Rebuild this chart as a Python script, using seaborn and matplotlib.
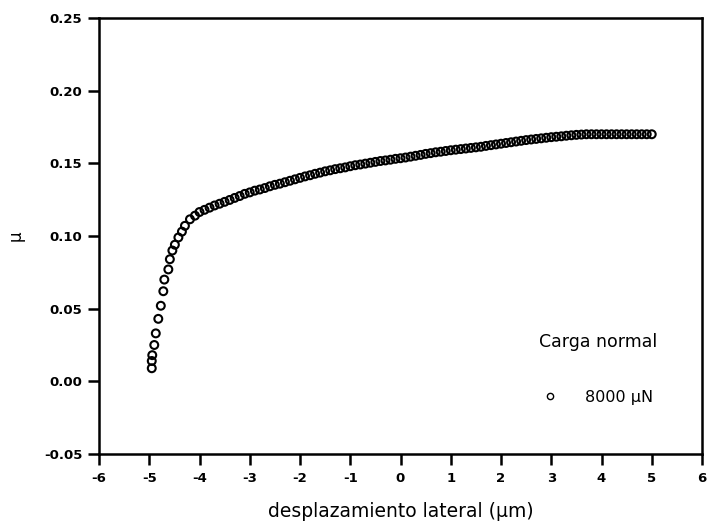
import matplotlib
matplotlib.use("Agg")
import matplotlib.pyplot as plt
import seaborn as sns
import pandas as pd

# Friction coefficient vs lateral displacement, normal load 8000 µN
desplazamiento = [
    -4.95, -4.95, -4.94, -4.90, -4.87, -4.82, -4.77, -4.72, -4.70, -4.62,
    -4.59, -4.54, -4.49, -4.42, -4.35, -4.29, -4.19, -4.09,
    -4.0, -3.9, -3.8, -3.7, -3.6, -3.5, -3.4, -3.3, -3.2, -3.1,
    -3.0, -2.9, -2.8, -2.7, -2.6, -2.5, -2.4, -2.3, -2.2, -2.1,
    -2.0, -1.9, -1.8, -1.7, -1.6, -1.5, -1.4, -1.3, -1.2, -1.1,
    -1.0, -0.9, -0.8, -0.7, -0.6, -0.5, -0.4, -0.3, -0.2, -0.1,
    0.0, 0.1, 0.2, 0.3, 0.4, 0.5, 0.6, 0.7, 0.8, 0.9,
    1.0, 1.1, 1.2, 1.3, 1.4, 1.5, 1.6, 1.7, 1.8, 1.9,
    2.0, 2.1, 2.2, 2.3, 2.4, 2.5, 2.6, 2.7, 2.8, 2.9,
    3.0, 3.1, 3.2, 3.3, 3.4, 3.5, 3.6, 3.7, 3.8, 3.9,
    4.0, 4.1, 4.2, 4.3, 4.4, 4.5, 4.6, 4.7, 4.8, 4.9,
    5.0,
]
mu = [
    0.0090, 0.0140, 0.0180, 0.0250, 0.0330, 0.0430, 0.0520, 0.0620, 0.0700, 0.0770,
    0.0840, 0.0900, 0.0940, 0.0990, 0.1030, 0.1070, 0.1115, 0.1140,
    0.1165, 0.1180, 0.1195, 0.1210, 0.1222, 0.1235, 0.1248, 0.1262, 0.1275, 0.1290,
    0.1300, 0.1312, 0.1320, 0.1330, 0.1342, 0.1352, 0.1360, 0.1370, 0.1380, 0.1390,
    0.1400, 0.1410, 0.1418, 0.1428, 0.1436, 0.1445, 0.1452, 0.1460, 0.1466, 0.1472,
    0.1480, 0.1487, 0.1492, 0.1498, 0.1504, 0.1510, 0.1516, 0.1520, 0.1525, 0.1531,
    0.1535, 0.1540, 0.1546, 0.1552, 0.1558, 0.1565, 0.1570, 0.1576, 0.1580, 0.1585,
    0.1590, 0.1594, 0.1598, 0.1602, 0.1606, 0.1610, 0.1614, 0.1620, 0.1625, 0.1630,
    0.1635, 0.1640, 0.1645, 0.1650, 0.1655, 0.1660, 0.1664, 0.1668, 0.1672, 0.1676,
    0.1680, 0.1683, 0.1686, 0.1690, 0.1693, 0.1696, 0.1698, 0.1700, 0.1700, 0.1700,
    0.1700, 0.1700, 0.1700, 0.1700, 0.1700, 0.1700, 0.1700, 0.1700, 0.1700, 0.1700,
    0.1700,
]
carga = "8000 µN"

x_ticks = [-6, -5, -4, -3, -2, -1, 0, 1, 2, 3, 4, 5, 6]
y_ticks = [-0.05, 0.00, 0.05, 0.10, 0.15, 0.20, 0.25]

df = pd.DataFrame({"x": desplazamiento, "mu": mu, "carga": carga})

sns.set_style("ticks")
plt.rcParams["font.family"] = ["DejaVu Sans"]
plt.rcParams["axes.unicode_minus"] = False
plt.rcParams["text.color"] = "black"
plt.rcParams["axes.labelcolor"] = "black"

fig = plt.figure(figsize=(7.10, 5.22), dpi=100)
ax = fig.add_axes([99 / 710, 68 / 522, 603 / 710, 436 / 522])

sns.scatterplot(
    data=df, x="x", y="mu", hue="carga", palette=["black"],
    marker="o", s=32, facecolors="none", edgecolor="black", linewidth=1.5,
    ax=ax, legend=False,
)
# open-circle styling
for coll in ax.collections:
    coll.set_facecolor("none")
    coll.set_edgecolor("black")

ax.set_xlim(-6, 6)
ax.set_ylim(-0.05, 0.25)
ax.set_xticks(x_ticks)
ax.set_xticklabels([str(t) for t in x_ticks])
ax.set_yticks(y_ticks)
ax.set_yticklabels([f"{t:.2f}" for t in y_ticks])

for side in ["left", "right", "top", "bottom"]:
    ax.spines[side].set_visible(True)
    ax.spines[side].set_linewidth(1.8)
    ax.spines[side].set_color("black")

ax.tick_params(axis="both", direction="out", length=8, width=1.8,
               colors="black", labelsize=9.5)
ax.tick_params(axis="y", pad=4)
ax.tick_params(axis="x", pad=5)
for lab in ax.get_xticklabels() + ax.get_yticklabels():
    lab.set_fontweight("bold")

ax.set_xlabel("desplazamiento lateral (µm)", fontsize=13.5, labelpad=12,
              color="black")
ax.set_ylabel("µ", fontsize=12, labelpad=14, color="black")

# legend: title above a single open-circle entry
handle = plt.Line2D([], [], linestyle="none", marker="o", markersize=4.5,
                    markerfacecolor="none", markeredgecolor="black",
                    markeredgewidth=1.0)
leg = ax.legend(
    [handle], [carga], title="Carga normal", frameon=False,
    loc="center", bbox_to_anchor=(598 / 710, 1 - 369 / 522),
    bbox_transform=fig.transFigure, fontsize=11.5, title_fontsize=12.5,
    handlelength=0.8, handletextpad=1.8, labelspacing=2.4,
)
for t in leg.get_texts():
    t.set_color("black")
leg.get_title().set_color("black")

fig.savefig("out.png", dpi=100, facecolor="white")
